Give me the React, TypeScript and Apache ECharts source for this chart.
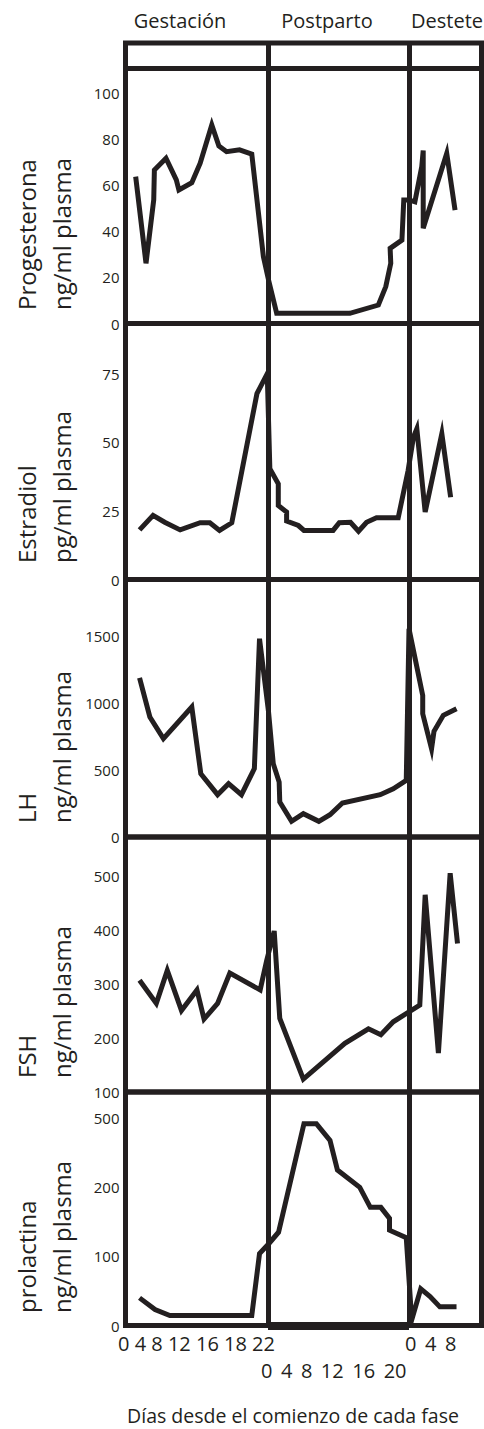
import React, { useEffect, useRef } from "react";
import * as echarts from "echarts";

const INK = "#231f20";
const FONT = "'Open Sans', 'Noto Sans', sans-serif";

// Phase titles and bottom tick labels
const phases = ["Gestación", "Postparto", "Destete"];
const gestTicks = ["0", "4", "8", "12", "16", "18", "22"];
const postTicks = ["0", "4", "8", "12", "16", "20"];
const destTicks = ["0", "4", "8"];
const xTitle = "Días desde el comienzo de cada fase";

// Y tick labels
const progTicks = [0, 20, 40, 60, 80, 100];
const estrTicks = [0, 25, 50, 75];
const lhTicks = [0, 500, 1000, 1500];
const fshTicks = [100, 200, 300, 400, 500];
const prlTicks = [0, 100, 200, 500];

// Data: [day since start of phase, value]
const progGest = [[1.5, 63.7], [3.1, 26.1], [4.3, 53.6], [4.4, 66.6], [6.2, 71.7], [7.8, 62.3], [8.2, 57.9], [10.2, 61.1], [11.5, 69.5], [13.3, 86.1], [14.4, 77.0], [15.6, 74.5], [17.6, 75.3], [19.5, 73.5], [21.3, 29.0], [22.1, 18.9]];
const progPost = [[1.4, 4.4], [13.2, 4.4], [17.8, 8.0], [19.0, 16.0], [19.8, 26.1], [19.7, 32.6], [21.6, 36.2], [21.9, 53.6]];
const progDest = [[0, 53.6], [1.2, 52.8], [2.6, 68.0], [2.9, 75.0], [2.9, 41.3], [7.7, 73.8], [9.4, 49.2]];

const estrGest = [[2.1, 18.1], [4.2, 23.4], [6.0, 20.9], [8.4, 18.1], [11.5, 20.7], [13.0, 20.7], [14.5, 17.9], [16.4, 20.7], [20.3, 67.8], [21.9, 75.1]];
const estrPost = [[0.3, 40.4], [1.66, 34.9], [1.66, 27.0], [3.0, 24.6], [3.0, 21.3], [4.9, 19.7], [5.8, 17.9], [10.5, 17.9], [11.5, 20.7], [13.3, 20.9], [14.6, 17.6], [15.9, 20.9], [17.5, 22.5], [21.0, 22.5], [22.6, 39.8]];
const estrDest = [[0.9, 51.9], [1.6, 55.0], [3.3, 24.6], [6.7, 53.2], [8.5, 30.0]];

const lhGest = [[2.1, 1187], [3.7, 896], [5.8, 734], [10.2, 970], [11.6, 472], [14.2, 316], [15.9, 398], [17.9, 316], [19.9, 510], [20.7, 1480], [22.1, 933]];
const lhPost = [[0.85, 547], [1.8, 410], [1.9, 261], [3.8, 117], [5.7, 174], [8.2, 117], [10.0, 166], [12.0, 254], [18.1, 316], [20.2, 360], [22.3, 423]];
const lhDest = [[0, 1554], [2.8, 1057], [2.8, 920], [4.6, 659], [5.1, 789], [7.0, 908], [9.7, 957]];

const fshGest = [[2.1, 307], [4.7, 264], [6.4, 325], [8.6, 251], [11.0, 289], [12.1, 235], [14.2, 264], [16.1, 320], [20.8, 289], [21.8, 343]];
const fshPost = [[1.0, 398], [1.9, 236], [5.7, 124], [12.4, 190], [16.2, 217], [18.2, 206], [20.2, 230]];
const fshDest = [[2.2, 261], [3.3, 465], [6.0, 172], [8.4, 505], [9.9, 375]];

const prlGest = [[2.1, 40], [4.5, 23], [6.8, 14.5], [19.5, 14.5], [20.7, 104], [22.1, 118]];
const prlPost = [[1.7, 135], [5.8, 476], [7.8, 476], [10.0, 404], [11.2, 275], [14.8, 200], [16.5, 171], [18.2, 171], [19.6, 155], [19.6, 138], [22.3, 127]];
const prlDest = [[0.55, 8], [2.4, 53], [4.3, 42], [6.3, 27], [9.7, 27]];

// layout of the three phases along one x axis per panel
const phaseStart = [0.5, 142.5, 283.5];
const phaseDayPx = [6.45, 6.2, 4.9];
const X_MAX = 356;

// prolactin axis is drawn with break points 0,100,200,500 evenly spaced
const prlPos = (v: number) => {
  for (let i = 1; i < prlTicks.length; i++) {
    if (v <= prlTicks[i]) return i - 1 + (v - prlTicks[i - 1]) / (prlTicks[i] - prlTicks[i - 1]);
  }
  return prlTicks.length - 1;
};

const toGlobal = (phase: number, pts: number[][], yMap?: (v: number) => number) =>
  pts.map(([d, v]) => [phaseStart[phase] + d * phaseDayPx[phase], yMap ? yMap(v) : v]);

const panels = [
  { name: ["Progesterona", "ng/ml plasma"], data: [progGest, progPost, progDest], ticks: progTicks, min: 0, max: 110.6, interval: 20, top: 68.5, bottom: 323.5, nameY: 310 },
  { name: ["Estradiol", "pg/ml plasma"], data: [estrGest, estrPost, estrDest], ticks: estrTicks, min: 0, max: 93.4, interval: 25, top: 323.5, bottom: 579.5, nameY: 563 },
  { name: ["LH", "ng/ml plasma"], data: [lhGest, lhPost, lhDest], ticks: lhTicks, min: 0, max: 1922, interval: 500, top: 579.5, bottom: 837, nameY: 823 },
  { name: ["FSH", "ng/ml plasma"], data: [fshGest, fshPost, fshDest], ticks: fshTicks, min: 100, max: 572, interval: 100, top: 837, bottom: 1092, nameY: 1078 },
  { name: ["prolactina", "ng/ml plasma"], data: [prlGest, prlPost, prlDest], ticks: prlTicks, min: 0, max: 3.38, interval: 1, top: 1092, bottom: 1325.5, nameY: 1313, scaled: true },
];

export default function App() {
  const ref = useRef<HTMLDivElement>(null);
  useEffect(() => {
    if (!ref.current) return;
    const chart = echarts.init(ref.current, undefined, { renderer: "svg" });

    const dividers = {
      silent: true,
      symbol: ["none", "none"],
      label: { show: false },
      lineStyle: { color: INK, width: 5, type: "solid" },
      data: [{ xAxis: phaseStart[1] }, { xAxis: phaseStart[2] }],
    };

    const grids: any[] = [
      { left: 125.5, right: 2.5, top: 43, height: 25.5, show: true, borderColor: INK, borderWidth: 5 },
    ];
    const xAxes: any[] = [{ type: "value", gridIndex: 0, min: 0, max: X_MAX, show: false }];
    const yAxes: any[] = [{ type: "value", gridIndex: 0, min: 0, max: 1, show: false }];
    const series: any[] = [
      { type: "line", xAxisIndex: 0, yAxisIndex: 0, data: [], markLine: dividers },
    ];
    const graphics: any[] = [];

    panels.forEach((p: any, i) => {
      const gi = i + 1;
      grids.push({ left: 125.5, right: 2.5, top: p.top, height: p.bottom - p.top, show: true, borderColor: INK, borderWidth: 5 });
      xAxes.push({ type: "value", gridIndex: gi, min: 0, max: X_MAX, show: false });
      yAxes.push({
        type: "value",
        gridIndex: gi,
        min: p.min,
        max: p.max,
        interval: p.interval,
        axisLine: { show: false },
        axisTick: { show: false },
        splitLine: { show: false },
        axisLabel: {
          margin: 6,
          fontSize: 15,
          fontFamily: FONT,
          color: INK,
          formatter: (v: number) => {
            if (p.scaled) {
              const k = Math.round(v);
              return Math.abs(v - k) < 1e-6 && k < p.ticks.length ? String(p.ticks[k]) : "";
            }
            return p.ticks.includes(v) ? String(v) : "";
          },
        },
      });
      const yMap = p.scaled ? prlPos : undefined;
      const pts = [
        ...toGlobal(0, p.data[0], yMap),
        ...toGlobal(1, p.data[1], yMap),
        ...toGlobal(2, p.data[2], yMap),
      ];
      const ml: any = { ...dividers, data: [...dividers.data] };
      if (p.scaled) {
        ml.data.push([
          { coord: [phaseStart[1], 0], lineStyle: { color: INK, width: 8, type: "solid" } },
          { coord: [phaseStart[2], 0] },
        ]);
      }
      series.push({
        type: "line",
        xAxisIndex: gi,
        yAxisIndex: gi,
        data: pts,
        showSymbol: false,
        symbol: "none",
        silent: true,
        lineStyle: { color: INK, width: 5, join: "miter", miterLimit: 6 },
        itemStyle: { color: INK },
        markLine: ml,
        z: 3,
      });
      graphics.push({
        type: "text",
        x: 44,
        y: p.nameY,
        rotation: Math.PI / 2,
        style: {
          text: p.name.join("\n"),
          fontSize: 24,
          fontFamily: FONT,
          lineHeight: 35,
          fill: INK,
          textAlign: "left",
          textVerticalAlign: "middle",
          align: "left",
          verticalAlign: "middle",
        },
      });
    });

    const titleX = [180, 327, 447];
    phases.forEach((t, i) => {
      graphics.push({
        type: "text",
        x: titleX[i],
        y: 20,
        style: { text: t, fontSize: 20, fontFamily: FONT, fill: INK, textAlign: "center", textVerticalAlign: "middle", align: "center", verticalAlign: "middle" },
      });
    });

    const tickRows = [
      { text: gestTicks.join(" "), x: 118, y: 1343 },
      { text: postTicks.join(" \u2009"), x: 261, y: 1370 },
      { text: destTicks.join(" \u2009"), x: 405, y: 1343 },
    ];
    tickRows.forEach((r) => {
      graphics.push({
        type: "text",
        x: r.x,
        y: r.y,
        style: { text: r.text, fontSize: 20, fontFamily: FONT, fill: INK, textAlign: "left", textVerticalAlign: "middle", align: "left", verticalAlign: "middle" },
      });
    });

    graphics.push({
      type: "text",
      x: 293,
      y: 1415,
      style: { text: xTitle, fontSize: 19.5, fontFamily: FONT, fill: INK, textAlign: "center", textVerticalAlign: "middle", align: "center", verticalAlign: "middle" },
    });

    chart.setOption({
      animation: false,
      backgroundColor: "#ffffff",
      grid: grids,
      xAxis: xAxes,
      yAxis: yAxes,
      series,
      graphic: { elements: graphics },
    });

    return () => chart.dispose();
  }, []);

  return (
    <div
      ref={ref}
      style={{ position: "absolute", left: 0, top: 0, width: 484, height: 1429, background: "#fff" }}
    />
  );
}
